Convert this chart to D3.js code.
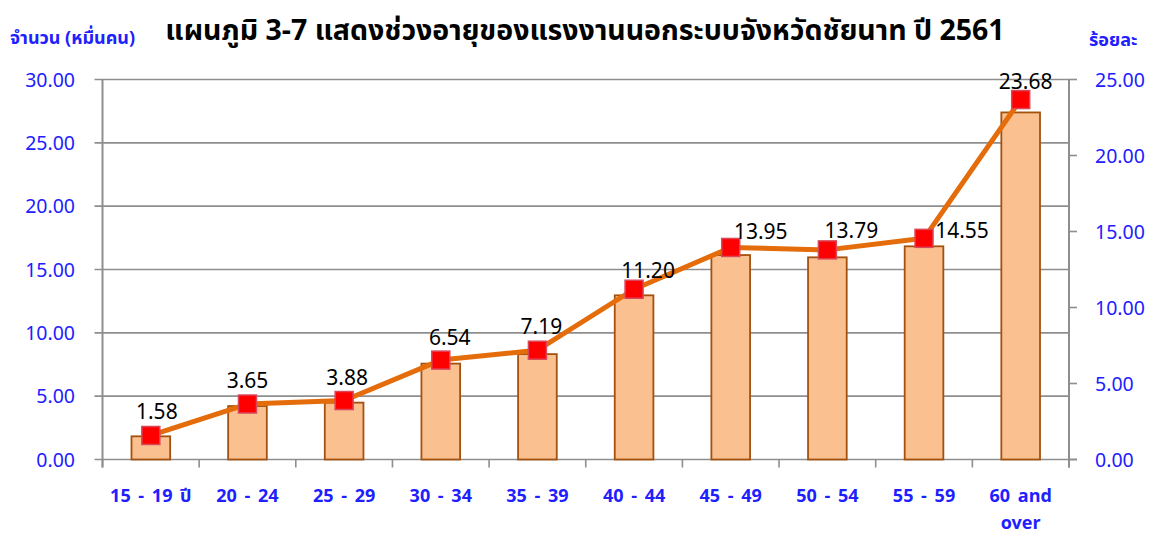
<!DOCTYPE html>
<html><head><meta charset="utf-8">
<script src="https://cdn.jsdelivr.net/npm/d3@7/dist/d3.min.js"></script>
<style>
html,body{margin:0;padding:0;background:#fff;}
svg{display:block;font-family:Tahoma,"Noto Sans Thai","Noto Sans","DejaVu Sans",sans-serif;}
</style></head>
<body><svg id="c" width="1156" height="536"></svg>
<script>
const categories = ["15 - 19 ปี","20 - 24","25 - 29","30 - 34","35 - 39","40 - 44","45 - 49","50 - 54","55 - 59","60 and|over"];
const workers = [1.83, 4.22, 4.49, 7.57, 8.32, 12.96, 16.14, 15.96, 16.83, 27.40]; // หมื่นคน
const percent = [1.58, 3.65, 3.88, 6.54, 7.19, 11.20, 13.95, 13.79, 14.55, 23.68]; // ร้อยละ
const leftTicks = [0,5,10,15,20,25,30];
const rightTicks = [0,5,10,15,20,25];
const titleText = "แผนภูมิ 3-7 แสดงช่วงอายุของแรงงานนอกระบบจังหวัดชัยนาท ปี 2561";
const leftLabel = "จำนวน (หมื่นคน)";
const rightLabel = "ร้อยละ";
// label placement (dx, dy) relative to marker
const labelNudge = [[6,-16],[0,-16],[3,-16],[9,-15],[4,-16],[14,-11],[30,-8],[24,-12],[38,0],[5,-11]];

const svg = d3.select("#c");
const L = 102.5, R = 1069, T = 79.5, B = 459.5;
const x = d3.scaleBand().domain(categories).range([L,R]).paddingInner(0.6).paddingOuter(0.3);
const xOuter = d3.scaleBand().domain(categories).range([L,R]);
const yL = d3.scaleLinear().domain([0,30]).range([B,T]);
const yR = d3.scaleLinear().domain([0,25]).range([B,T]);
const gridC = "#8e8e8e", blue = "#2020ff";

// gridlines
svg.append("g").selectAll("line").data(leftTicks).join("line")
  .attr("x1",L-8).attr("x2",R).attr("y1",d=>yL(d)).attr("y2",d=>yL(d))
  .attr("stroke",gridC).attr("stroke-width",1.6);
// x ticks
const xt = categories.map(c=>xOuter(c)).concat([R]);
svg.append("g").selectAll("line").data(xt).join("line")
  .attr("x1",d=>d).attr("x2",d=>d).attr("y1",B).attr("y2",B+8)
  .attr("stroke",gridC).attr("stroke-width",1.6);
// axes lines
svg.append("line").attr("x1",L).attr("x2",L).attr("y1",T).attr("y2",B+8).attr("stroke",gridC).attr("stroke-width",2);
svg.append("line").attr("x1",R).attr("x2",R).attr("y1",T).attr("y2",B+8).attr("stroke",gridC).attr("stroke-width",2);
svg.append("line").attr("x1",R).attr("x2",R+8).attr("y1",B).attr("y2",B).attr("stroke",gridC).attr("stroke-width",1.6);
// right ticks
svg.append("g").selectAll("line").data(rightTicks).join("line")
  .attr("x1",R).attr("x2",R+8).attr("y1",d=>yR(d)).attr("y2",d=>yR(d))
  .attr("stroke",gridC).attr("stroke-width",1.6);

// tick labels
svg.append("g").selectAll("text").data(leftTicks).join("text")
  .attr("x",75).attr("y",d=>yL(d)).attr("dy","0.36em").attr("text-anchor","end")
  .attr("fill",blue).attr("font-size",19.5).text(d=>d.toFixed(2));
svg.append("g").selectAll("text").data(rightTicks).join("text")
  .attr("x",1095).attr("y",d=>yR(d)).attr("dy","0.36em").attr("text-anchor","start")
  .attr("fill",blue).attr("font-size",19.5).text(d=>d.toFixed(2));

// bars
svg.append("g").selectAll("rect").data(workers).join("rect")
  .attr("x",(d,i)=>x(categories[i])).attr("width",x.bandwidth())
  .attr("y",d=>yL(d)).attr("height",d=>B-yL(d))
  .attr("fill","#fac090").attr("stroke","#a4510e").attr("stroke-width",1.8);

// line
const cx = i => x(categories[i]) + x.bandwidth()/2;
svg.append("path").datum(percent)
  .attr("d", d3.line().x((d,i)=>cx(i)).y(d=>yR(d)))
  .attr("fill","none").attr("stroke","#e46c0a").attr("stroke-width",5).attr("stroke-linejoin","round");
// markers
const ms = 18;
svg.append("g").selectAll("rect").data(percent).join("rect")
  .attr("x",(d,i)=>cx(i)-ms/2).attr("y",d=>yR(d)-ms/2).attr("width",ms).attr("height",ms)
  .attr("fill","#ff0000").attr("stroke","#d9485a").attr("stroke-width",1.5);
// data labels
svg.append("g").selectAll("text").data(percent).join("text")
  .attr("x",(d,i)=>cx(i)+labelNudge[i][0]).attr("y",(d,i)=>yR(d)+labelNudge[i][1])
  .attr("text-anchor","middle").attr("font-size",21).attr("fill","#000").text(d=>d.toFixed(2));

// category labels
const cl = svg.append("g").selectAll("text").data(categories).join("text")
  .attr("x",c=>xOuter(c)+xOuter.bandwidth()/2).attr("y",502)
  .attr("text-anchor","middle").attr("font-size",18).attr("font-weight","bold").attr("fill",blue)
  .attr("word-spacing",3);
cl.each(function(c){
  const parts = c.split("|"); const t = d3.select(this);
  parts.forEach((p,k)=>t.append("tspan").attr("x",t.attr("x")).attr("dy",k? 27:0).text(p));
});

// titles
svg.append("text").attr("x",585).attr("y",40).attr("text-anchor","middle")
  .attr("font-size",28.5).attr("font-weight","bold").attr("fill","#000").text(titleText);
svg.append("text").attr("x",10).attr("y",44).attr("font-size",18).attr("font-weight","bold").attr("fill",blue).text(leftLabel);
svg.append("text").attr("x",1089).attr("y",46).attr("font-size",18).attr("font-weight","bold").attr("fill",blue).text(rightLabel);
</script></body></html>
